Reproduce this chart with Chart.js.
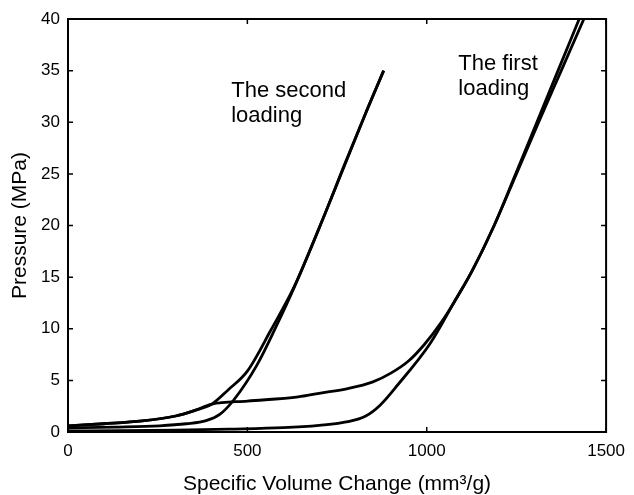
<!DOCTYPE html>
<html>
<head>
<meta charset="utf-8">
<script src="https://cdn.jsdelivr.net/npm/chart.js@4.4.1/dist/chart.umd.min.js"></script>
<style>
  html, body { margin: 0; padding: 0; background: #fff; }
  #wrap { width: 634px; height: 495px; position: relative; }
</style>
</head>
<body>
<div id="wrap"><canvas id="myCanvas"></canvas></div>
<script>
// curves (volume change in mm3/g, pressure in MPa)
const firstLoadX = [0, 150, 300, 450, 600, 700, 780, 830, 870, 920, 1010, 1075, 1125, 1188, 1250, 1312, 1375, 1438];
const firstLoadP = [0.1, 0.12, 0.18, 0.28, 0.42, 0.65, 1.0, 1.55, 2.6, 4.6, 8.6, 12.5, 15.5, 20, 25, 30, 35, 40];

const firstUnloadX = [0, 100, 207, 300, 350, 401, 500, 642, 700, 780, 850, 900, 950, 994, 1040, 1077, 1125, 1188, 1248, 1307, 1366, 1425];
const firstUnloadP = [0.6, 0.8, 1.07, 1.55, 2.05, 2.7, 3.0, 3.4, 3.75, 4.2, 4.85, 5.7, 6.9, 8.5, 10.6, 12.6, 15.5, 20, 25, 30, 35, 40];

const secondLoadX = [0, 130, 255, 330, 385, 423, 462, 527, 580, 633, 709, 772, 830, 880];
const secondLoadP = [0.4, 0.48, 0.6, 0.8, 1.1, 1.7, 3.1, 6.5, 10.2, 14.2, 20.5, 25.9, 30.9, 35];

const secondUnloadX = [0, 100, 207, 300, 350, 401, 447, 500, 566, 631, 709, 772, 830, 880];
const secondUnloadP = [0.6, 0.8, 1.07, 1.55, 2.05, 2.7, 4.1, 5.9, 9.9, 14.1, 20.5, 26.0, 30.9, 35];

const xTicks = [0, 500, 1000, 1500];
const yTicks = [0, 5, 10, 15, 20, 25, 30, 35, 40];

// text labels placed in data coordinates
const notes = [
  { lines: ['The second', 'loading'], x: 455, y: 32.45 },
  { lines: ['The first', 'loading'], x: 1088, y: 35.1 }
];

const FONT = "'Liberation Sans', Arial, Helvetica, sans-serif";

function pts(xs, ys) {
  return xs.map(function(x, i) { return { x: x, y: ys[i] }; });
}

function curve(xs, ys) {
  return {
    data: pts(xs, ys),
    showLine: true,
    borderColor: '#000',
    borderWidth: 2.8,
    pointRadius: 0,
    cubicInterpolationMode: 'monotone',
    fill: false
  };
}

// box frame with inward ticks + the two text notes
const framePlugin = {
  id: 'frame',
  afterDraw(chart) {
    const ctx = chart.ctx;
    const a = chart.chartArea;
    const xs = chart.scales.x, ys = chart.scales.y;
    ctx.save();
    ctx.strokeStyle = '#000';
    ctx.lineWidth = 2;
    ctx.strokeRect(a.left, a.top, a.right - a.left, a.bottom - a.top);
    ctx.lineWidth = 1.5;
    const len = 5;
    ctx.beginPath();
    xTicks.forEach(function(v) {
      const px = xs.getPixelForValue(v);
      ctx.moveTo(px, a.bottom); ctx.lineTo(px, a.bottom - len);
      ctx.moveTo(px, a.top); ctx.lineTo(px, a.top + len);
    });
    yTicks.forEach(function(v) {
      const py = ys.getPixelForValue(v);
      ctx.moveTo(a.left, py); ctx.lineTo(a.left + len, py);
      ctx.moveTo(a.right, py); ctx.lineTo(a.right - len, py);
    });
    ctx.stroke();

    ctx.fillStyle = '#000';
    ctx.font = '22px ' + FONT;
    ctx.textBaseline = 'alphabetic';
    ctx.textAlign = 'left';
    notes.forEach(function(n) {
      const px = xs.getPixelForValue(n.x);
      const py = ys.getPixelForValue(n.y);
      n.lines.forEach(function(t, i) {
        ctx.fillText(t, px, py + i * 25);
      });
    });
    ctx.restore();
  }
};

const canvas = document.getElementById('myCanvas');
const ctx = canvas.getContext('2d');
const myChart = new Chart(ctx, {
  type: 'scatter',
  data: {
    datasets: [
      curve(firstLoadX, firstLoadP),
      curve(firstUnloadX, firstUnloadP),
      curve(secondLoadX, secondLoadP),
      curve(secondUnloadX, secondUnloadP)
    ]
  },
  options: {
    responsive: true,
    maintainAspectRatio: false,
    animation: false,
    layout: { padding: { top: 19, right: 23, left: 0, bottom: 0 } },
    plugins: {
      legend: { display: false },
      tooltip: { enabled: false }
    },
    scales: {
      x: {
        type: 'linear',
        min: 0,
        max: 1500,
        afterBuildTicks: function(s) { s.ticks = xTicks.map(function(v) { return { value: v }; }); },
        afterFit: function(s) { s.height = 63; },
        grid: { display: false, drawTicks: false },
        border: { display: false },
        ticks: {
          color: '#000', padding: 9, maxRotation: 0,
          font: { family: FONT, size: 17 },
          callback: function(v) { return String(v); }
        },
        title: {
          display: true,
          text: 'Specific Volume Change (mm³/g)',
          color: '#000',
          font: { family: FONT, size: 21, lineHeight: 1 },
          padding: { top: -2, bottom: 0 }
        }
      },
      y: {
        type: 'linear',
        min: 0,
        max: 40,
        afterBuildTicks: function(s) { s.ticks = yTicks.map(function(v) { return { value: v }; }); },
        afterFit: function(s) { s.width = 68; },
        grid: { display: false, drawTicks: false },
        border: { display: false },
        ticks: {
          color: '#000', padding: 8,
          font: { family: FONT, size: 17 },
          callback: function(v) { return String(v); }
        },
        title: {
          display: true,
          text: 'Pressure (MPa)',
          color: '#000',
          font: { family: FONT, size: 21, lineHeight: 1 },
          padding: { top: 10, bottom: 0 }
        }
      }
    }
  },
  plugins: [framePlugin]
});
</script>
</body>
</html>
